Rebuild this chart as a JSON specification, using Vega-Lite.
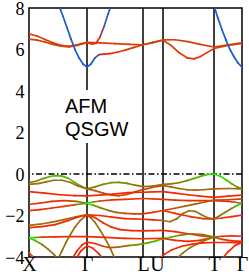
{
"$schema": "https://vega.github.io/schema/vega-lite/v6.json",
"width": 213, "height": 249,
"autosize": {"type": "none"},
"padding": {"left": 29, "top": 8, "right": 7, "bottom": 18},
"background": "white",
"config": {"view": {"stroke": "black", "strokeWidth": 1.5}, "axis": {"grid": false, "ticks": false, "domain": false, "labelColor": "black", "labelFont": "Liberation Serif", "title": null}},
"datasets": {
"vlines": [{"k":87},{"k":143},{"k":163},{"k":214}],
"labels": [{"t":"AFM","k":65,"e":2.92},{"t":"QSGW","k":65,"e":1.83}],
"bands": [
{"b":1,"k":29,"e":-0.42,"g":0.45},{"b":1,"k":36,"e":-0.35,"g":0.5},{"b":1,"k":43,"e":-0.22,"g":0.6},{"b":1,"k":50,"e":-0.12,"g":0.7},{"b":1,"k":56,"e":-0.08,"g":0.75},{"b":1,"k":62,"e":-0.1,"g":0.75},{"b":1,"k":68,"e":-0.2,"g":0.7},{"b":1,"k":74,"e":-0.38,"g":0.65},{"b":1,"k":80,"e":-0.56,"g":0.55},{"b":1,"k":87,"e":-0.72,"g":0.45},
{"b":2,"k":29,"e":-0.5,"g":0.4},{"b":2,"k":38,"e":-0.46,"g":0.4},{"b":2,"k":46,"e":-0.38,"g":0.45},{"b":2,"k":54,"e":-0.3,"g":0.45},{"b":2,"k":62,"e":-0.3,"g":0.45},{"b":2,"k":70,"e":-0.4,"g":0.4},{"b":2,"k":78,"e":-0.58,"g":0.4},{"b":2,"k":87,"e":-0.72,"g":0.4},
{"b":3,"k":29,"e":-0.85,"g":0.05},{"b":3,"k":45,"e":-0.92,"g":0.05},{"b":3,"k":60,"e":-1.0,"g":0.05},{"b":3,"k":75,"e":-1.04,"g":0.05},{"b":3,"k":87,"e":-1.05,"g":0.05},
{"b":4,"k":29,"e":-1.47,"g":0.1},{"b":4,"k":40,"e":-1.4,"g":0.1},{"b":4,"k":52,"e":-1.32,"g":0.1},{"b":4,"k":64,"e":-1.28,"g":0.15},{"b":4,"k":76,"e":-1.32,"g":0.5},{"b":4,"k":87,"e":-1.41,"g":1},
{"b":5,"k":29,"e":-1.77,"g":0.1},{"b":5,"k":40,"e":-1.72,"g":0.1},{"b":5,"k":52,"e":-1.64,"g":0.1},{"b":5,"k":64,"e":-1.56,"g":0.2},{"b":5,"k":76,"e":-1.48,"g":0.6},{"b":5,"k":87,"e":-1.41,"g":1},
{"b":6,"k":29,"e":-2.48,"g":0.4},{"b":6,"k":40,"e":-2.42,"g":0.4},{"b":6,"k":52,"e":-2.32,"g":0.4},{"b":6,"k":64,"e":-2.2,"g":0.35},{"b":6,"k":76,"e":-2.07,"g":0.25},{"b":6,"k":87,"e":-1.97,"g":0.1},
{"b":7,"k":29,"e":-2.58,"g":0.05},{"b":7,"k":42,"e":-2.54,"g":0.05},{"b":7,"k":55,"e":-2.44,"g":0.05},{"b":7,"k":68,"e":-2.25,"g":0.1},{"b":7,"k":78,"e":-2.07,"g":0.1},{"b":7,"k":87,"e":-1.97,"g":0.1},
{"b":8,"k":29,"e":-3.08,"g":1},{"b":8,"k":35,"e":-3.06,"g":0.5},{"b":8,"k":42,"e":-3.04,"g":0.15},{"b":8,"k":55,"e":-3.03,"g":0.05},{"b":8,"k":70,"e":-3.02,"g":0.05},{"b":8,"k":87,"e":-3.02,"g":0.05},
{"b":9,"k":29,"e":-3.08,"g":0.9},{"b":9,"k":35,"e":-3.2,"g":0.6},{"b":9,"k":42,"e":-3.4,"g":0.45},{"b":9,"k":48,"e":-3.62,"g":0.4},{"b":9,"k":54,"e":-3.88,"g":0.4},{"b":9,"k":58,"e":-4.1,"g":0.4},
{"b":10,"k":58,"e":-4.1,"g":0.4},{"b":10,"k":62,"e":-3.7,"g":0.4},{"b":10,"k":66,"e":-3.3,"g":0.4},{"b":10,"k":70,"e":-2.95,"g":0.4},{"b":10,"k":75,"e":-2.55,"g":0.35},{"b":10,"k":80,"e":-2.25,"g":0.3},{"b":10,"k":87,"e":-1.97,"g":0.1},
{"b":11,"k":72,"e":-4.1,"g":0.05},{"b":11,"k":77,"e":-3.7,"g":0.05},{"b":11,"k":82,"e":-3.42,"g":0.05},{"b":11,"k":87,"e":-3.28,"g":0.05},{"b":11,"k":95,"e":-3.35,"g":0.1},{"b":11,"k":103,"e":-3.48,"g":0.2},{"b":11,"k":110,"e":-3.55,"g":0.3},{"b":11,"k":118,"e":-3.52,"g":0.4},{"b":11,"k":128,"e":-3.45,"g":0.5},{"b":11,"k":138,"e":-3.4,"g":0.6},{"b":11,"k":148,"e":-3.32,"g":0.7},{"b":11,"k":156,"e":-3.22,"g":0.85},{"b":11,"k":163,"e":-3.12,"g":1},
{"b":12,"k":76,"e":-4.1,"g":0.05},{"b":12,"k":81,"e":-3.7,"g":0.05},{"b":12,"k":87,"e":-3.46,"g":0.05},{"b":12,"k":93,"e":-3.58,"g":0.05},{"b":12,"k":99,"e":-3.85,"g":0.05},{"b":12,"k":103,"e":-4.1,"g":0.05},
{"b":13,"k":29,"e":-3.78,"g":0.1},{"b":13,"k":32,"e":-3.95,"g":0.1},{"b":13,"k":34,"e":-4.1,"g":0.1},
{"b":14,"k":87,"e":-0.72,"g":0.45},{"b":14,"k":95,"e":-0.62,"g":0.5},{"b":14,"k":103,"e":-0.5,"g":0.55},{"b":14,"k":111,"e":-0.42,"g":0.55},{"b":14,"k":119,"e":-0.4,"g":0.5},{"b":14,"k":127,"e":-0.45,"g":0.45},{"b":14,"k":135,"e":-0.54,"g":0.4},{"b":14,"k":143,"e":-0.61,"g":0.4},{"b":14,"k":153,"e":-0.58,"g":0.4},{"b":14,"k":163,"e":-0.5,"g":0.4},
{"b":15,"k":87,"e":-0.72,"g":0.35},{"b":15,"k":95,"e":-0.8,"g":0.3},{"b":15,"k":103,"e":-0.92,"g":0.25},{"b":15,"k":111,"e":-1.02,"g":0.25},{"b":15,"k":119,"e":-1.05,"g":0.25},{"b":15,"k":127,"e":-0.98,"g":0.25},{"b":15,"k":135,"e":-0.86,"g":0.25},{"b":15,"k":143,"e":-0.75,"g":0.25},{"b":15,"k":153,"e":-0.64,"g":0.25},{"b":15,"k":163,"e":-0.56,"g":0.3},
{"b":16,"k":87,"e":-1.05,"g":0.05},{"b":16,"k":100,"e":-1.02,"g":0.05},{"b":16,"k":113,"e":-0.97,"g":0.05},{"b":16,"k":128,"e":-0.9,"g":0.05},{"b":16,"k":143,"e":-0.88,"g":0.05},{"b":16,"k":153,"e":-0.86,"g":0.05},{"b":16,"k":163,"e":-0.85,"g":0.05},
{"b":17,"k":87,"e":-1.41,"g":1},{"b":17,"k":93,"e":-1.35,"g":0.4},{"b":17,"k":100,"e":-1.3,"g":0.15},{"b":17,"k":112,"e":-1.25,"g":0.1},{"b":17,"k":125,"e":-1.22,"g":0.1},{"b":17,"k":143,"e":-1.18,"g":0.1},{"b":17,"k":153,"e":-1.2,"g":0.1},{"b":17,"k":163,"e":-1.22,"g":0.15},
{"b":18,"k":87,"e":-1.41,"g":1},{"b":18,"k":93,"e":-1.5,"g":0.6},{"b":18,"k":100,"e":-1.62,"g":0.45},{"b":18,"k":108,"e":-1.75,"g":0.4},{"b":18,"k":116,"e":-1.85,"g":0.35},{"b":18,"k":125,"e":-1.9,"g":0.25},{"b":18,"k":134,"e":-1.92,"g":0.15},{"b":18,"k":143,"e":-1.92,"g":0.1},{"b":18,"k":153,"e":-1.85,"g":0.1},{"b":18,"k":163,"e":-1.76,"g":0.1},
{"b":19,"k":87,"e":-1.97,"g":0.1},{"b":19,"k":100,"e":-2.0,"g":0.1},{"b":19,"k":112,"e":-2.08,"g":0.05},{"b":19,"k":125,"e":-2.15,"g":0.05},{"b":19,"k":143,"e":-2.18,"g":0.05},{"b":19,"k":153,"e":-2.21,"g":0.05},{"b":19,"k":163,"e":-2.24,"g":0.1},
{"b":20,"k":87,"e":-1.97,"g":0.1},{"b":20,"k":95,"e":-2.1,"g":0.1},{"b":20,"k":103,"e":-2.35,"g":0.1},{"b":20,"k":111,"e":-2.55,"g":0.05},{"b":20,"k":120,"e":-2.68,"g":0.05},{"b":20,"k":132,"e":-2.73,"g":0.05},{"b":20,"k":143,"e":-2.74,"g":0.05},{"b":20,"k":153,"e":-2.73,"g":0.05},{"b":20,"k":163,"e":-2.72,"g":0.05},
{"b":21,"k":87,"e":-1.97,"g":0.25},{"b":21,"k":91,"e":-2.12,"g":0.4},{"b":21,"k":95,"e":-2.33,"g":0.4},{"b":21,"k":100,"e":-2.7,"g":0.4},{"b":21,"k":105,"e":-3.1,"g":0.4},{"b":21,"k":110,"e":-3.55,"g":0.4},{"b":21,"k":115,"e":-4.1,"g":0.4},
{"b":22,"k":87,"e":-3.02,"g":0.05},{"b":22,"k":105,"e":-3.05,"g":0.05},{"b":22,"k":125,"e":-3.1,"g":0.05},{"b":22,"k":143,"e":-3.12,"g":0.05},{"b":22,"k":163,"e":-3.1,"g":0.1},
{"b":23,"k":163,"e":-0.5,"g":0.4},{"b":23,"k":171,"e":-0.48,"g":0.45},{"b":23,"k":179,"e":-0.42,"g":0.5},{"b":23,"k":187,"e":-0.32,"g":0.6},{"b":23,"k":195,"e":-0.2,"g":0.7},{"b":23,"k":202,"e":-0.09,"g":0.8},{"b":23,"k":208,"e":-0.02,"g":0.9},{"b":23,"k":214,"e":0,"g":1},{"b":23,"k":220,"e":-0.1,"g":0.9},{"b":23,"k":226,"e":-0.28,"g":0.75},{"b":23,"k":232,"e":-0.48,"g":0.6},{"b":23,"k":237,"e":-0.62,"g":0.5},{"b":23,"k":242,"e":-0.72,"g":0.45},
{"b":24,"k":163,"e":-0.56,"g":0.35},{"b":24,"k":171,"e":-0.62,"g":0.35},{"b":24,"k":179,"e":-0.7,"g":0.35},{"b":24,"k":187,"e":-0.76,"g":0.35},{"b":24,"k":195,"e":-0.78,"g":0.35},{"b":24,"k":203,"e":-0.76,"g":0.35},{"b":24,"k":214,"e":-0.72,"g":0.35},{"b":24,"k":228,"e":-0.7,"g":0.4},{"b":24,"k":242,"e":-0.72,"g":0.4},
{"b":25,"k":163,"e":-0.85,"g":0.05},{"b":25,"k":175,"e":-0.92,"g":0.05},{"b":25,"k":188,"e":-1.0,"g":0.05},{"b":25,"k":200,"e":-1.07,"g":0.05},{"b":25,"k":214,"e":-1.13,"g":0.05},{"b":25,"k":228,"e":-1.07,"g":0.05},{"b":25,"k":242,"e":-1.02,"g":0.05},
{"b":26,"k":163,"e":-1.22,"g":0.15},{"b":26,"k":175,"e":-1.26,"g":0.15},{"b":26,"k":188,"e":-1.28,"g":0.1},{"b":26,"k":200,"e":-1.28,"g":0.05},{"b":26,"k":214,"e":-1.28,"g":0.05},{"b":26,"k":228,"e":-1.32,"g":0.1},{"b":26,"k":235,"e":-1.36,"g":0.4},{"b":26,"k":242,"e":-1.41,"g":1},
{"b":27,"k":163,"e":-1.76,"g":0.2},{"b":27,"k":175,"e":-1.65,"g":0.3},{"b":27,"k":185,"e":-1.55,"g":0.35},{"b":27,"k":195,"e":-1.45,"g":0.35},{"b":27,"k":205,"e":-1.35,"g":0.3},{"b":27,"k":214,"e":-1.26,"g":0.2},{"b":27,"k":228,"e":-1.24,"g":0.15},{"b":27,"k":242,"e":-1.2,"g":0.1},
{"b":28,"k":163,"e":-2.24,"g":0.4},{"b":28,"k":170,"e":-2.3,"g":0.4},{"b":28,"k":177,"e":-2.15,"g":0.4},{"b":28,"k":183,"e":-1.9,"g":0.4},{"b":28,"k":189,"e":-1.77,"g":0.4},{"b":28,"k":195,"e":-1.8,"g":0.4},{"b":28,"k":201,"e":-1.95,"g":0.4},{"b":28,"k":207,"e":-2.1,"g":0.4},{"b":28,"k":214,"e":-2.17,"g":0.35},{"b":28,"k":220,"e":-2.0,"g":0.4},{"b":28,"k":226,"e":-1.82,"g":0.45},{"b":28,"k":232,"e":-1.65,"g":0.6},{"b":28,"k":237,"e":-1.52,"g":0.8},{"b":28,"k":242,"e":-1.41,"g":1},
{"b":29,"k":163,"e":-2.72,"g":0.05},{"b":29,"k":175,"e":-2.78,"g":0.05},{"b":29,"k":188,"e":-2.88,"g":0.1},{"b":29,"k":200,"e":-2.97,"g":0.2},{"b":29,"k":214,"e":-3.04,"g":0.6},
{"b":30,"k":163,"e":-3.12,"g":1},{"b":30,"k":170,"e":-3.05,"g":0.6},{"b":30,"k":180,"e":-2.95,"g":0.45},{"b":30,"k":192,"e":-2.88,"g":0.4},{"b":30,"k":203,"e":-2.92,"g":0.4},{"b":30,"k":214,"e":-3.04,"g":0.6},
{"b":31,"k":163,"e":-3.1,"g":0.1},{"b":31,"k":175,"e":-3.2,"g":0.05},{"b":31,"k":188,"e":-3.25,"g":0.05},{"b":31,"k":200,"e":-3.2,"g":0.05},{"b":31,"k":214,"e":-3.04,"g":0.3},
{"b":32,"k":214,"e":-3.04,"g":0.3},{"b":32,"k":222,"e":-3.0,"g":0.05},{"b":32,"k":232,"e":-2.98,"g":0.05},{"b":32,"k":242,"e":-3.0,"g":0.05},
{"b":33,"k":214,"e":-3.04,"g":0.3},{"b":33,"k":222,"e":-3.15,"g":0.05},{"b":33,"k":232,"e":-3.22,"g":0.05},{"b":33,"k":242,"e":-3.25,"g":0.05},
{"b":34,"k":176,"e":-4.1,"g":0.4},{"b":34,"k":183,"e":-3.8,"g":0.4},{"b":34,"k":190,"e":-3.55,"g":0.4},{"b":34,"k":198,"e":-3.35,"g":0.45},{"b":34,"k":206,"e":-3.18,"g":0.55},{"b":34,"k":214,"e":-3.04,"g":0.8},
{"b":35,"k":159,"e":-4.1,"g":0.05},{"b":35,"k":165,"e":-3.85,"g":0.05},{"b":35,"k":172,"e":-3.65,"g":0.05},{"b":35,"k":182,"e":-3.48,"g":0.05},{"b":35,"k":192,"e":-3.38,"g":0.05},{"b":35,"k":203,"e":-3.32,"g":0.05},{"b":35,"k":214,"e":-3.3,"g":0.05},{"b":35,"k":228,"e":-3.3,"g":0.05},{"b":35,"k":242,"e":-3.32,"g":0.05},
{"b":36,"k":222,"e":-4.1,"g":0.05},{"b":36,"k":228,"e":-3.75,"g":0.05},{"b":36,"k":235,"e":-3.45,"g":0.05},{"b":36,"k":242,"e":-3.3,"g":0.05},
{"b":37,"k":214,"e":-2.17,"g":0.3},{"b":37,"k":222,"e":-2.12,"g":0.1},{"b":37,"k":232,"e":-2.05,"g":0.05},{"b":37,"k":242,"e":-1.98,"g":0.05},
{"b":38,"k":163,"e":-1.76,"g":0.1},{"b":38,"k":175,"e":-1.9,"g":0.1},{"b":38,"k":190,"e":-2.05,"g":0.15},{"b":38,"k":203,"e":-2.15,"g":0.2},{"b":38,"k":214,"e":-2.17,"g":0.3},
{"b":40,"k":29,"e":6.75,"g":0.18},{"b":40,"k":37,"e":6.65,"g":0.18},{"b":40,"k":45,"e":6.48,"g":0.18},{"b":40,"k":53,"e":6.32,"g":0.18},{"b":40,"k":61,"e":6.2,"g":0.18},{"b":40,"k":69,"e":6.15,"g":0.18},{"b":40,"k":77,"e":6.22,"g":0.18},{"b":40,"k":87,"e":6.35,"g":0.18},{"b":40,"k":100,"e":6.32,"g":0.18},{"b":40,"k":115,"e":6.28,"g":0.18},{"b":40,"k":130,"e":6.25,"g":0.18},{"b":40,"k":143,"e":6.23,"g":0.18},{"b":40,"k":153,"e":6.33,"g":0.18},{"b":40,"k":163,"e":6.46,"g":0.18},{"b":40,"k":175,"e":6.47,"g":0.18},{"b":40,"k":188,"e":6.38,"g":0.18},{"b":40,"k":200,"e":6.25,"g":0.18},{"b":40,"k":214,"e":6.12,"g":0.18},{"b":40,"k":228,"e":6.22,"g":0.18},{"b":40,"k":242,"e":6.32,"g":0.18},
{"b":41,"k":29,"e":6.5,"g":0.18},{"b":41,"k":37,"e":6.45,"g":0.18},{"b":41,"k":45,"e":6.36,"g":0.18},{"b":41,"k":53,"e":6.25,"g":0.18},{"b":41,"k":61,"e":6.16,"g":0.18},{"b":41,"k":69,"e":6.13,"g":0.18},{"b":41,"k":77,"e":6.2,"g":0.18},{"b":41,"k":87,"e":6.33,"g":0.18},{"b":41,"k":92,"e":6.26,"g":0.12},{"b":41,"k":96,"e":6.3,"g":0},{"b":41,"k":100,"e":6.6,"g":-0.5},{"b":41,"k":104,"e":7.1,"g":-0.9},{"b":41,"k":108,"e":7.7,"g":-1},{"b":41,"k":111,"e":8.1,"g":-1},
{"b":42,"k":59,"e":8.1,"g":-1},{"b":42,"k":63,"e":7.6,"g":-1},{"b":42,"k":67,"e":7.05,"g":-1},{"b":42,"k":71,"e":6.5,"g":-1},{"b":42,"k":75,"e":6.0,"g":-1},{"b":42,"k":79,"e":5.6,"g":-1},{"b":42,"k":83,"e":5.3,"g":-1},{"b":42,"k":87,"e":5.15,"g":-1},{"b":42,"k":91,"e":5.3,"g":-1},{"b":42,"k":95,"e":5.6,"g":-0.8},{"b":42,"k":99,"e":5.75,"g":-0.4},{"b":42,"k":104,"e":5.78,"g":0},{"b":42,"k":110,"e":5.8,"g":0.08},{"b":42,"k":118,"e":5.88,"g":0.12},{"b":42,"k":126,"e":5.98,"g":0.15},{"b":42,"k":134,"e":6.1,"g":0.18},{"b":42,"k":143,"e":6.23,"g":0.18},{"b":42,"k":153,"e":6.35,"g":0.18},{"b":42,"k":163,"e":6.45,"g":0.18},{"b":42,"k":171,"e":6.2,"g":0.12},{"b":42,"k":179,"e":5.85,"g":0.08},{"b":42,"k":187,"e":5.6,"g":0.08},{"b":42,"k":194,"e":5.55,"g":0.08},{"b":42,"k":200,"e":5.65,"g":0.12},{"b":42,"k":207,"e":5.85,"g":0.15},{"b":42,"k":214,"e":6.05,"g":0.18},{"b":42,"k":228,"e":6.2,"g":0.18},{"b":42,"k":242,"e":6.3,"g":0.18},
{"b":43,"k":214,"e":8.1,"g":-1},{"b":43,"k":218,"e":7.5,"g":-1},{"b":43,"k":222,"e":6.95,"g":-1},{"b":43,"k":226,"e":6.45,"g":-1},{"b":43,"k":230,"e":6.0,"g":-1},{"b":43,"k":234,"e":5.65,"g":-1},{"b":43,"k":238,"e":5.35,"g":-1},{"b":43,"k":242,"e":5.15,"g":-1}
]
},
"layer": [
{"data": {"name": "vlines"}, "mark": {"type": "rule", "color": "black", "strokeWidth": 1.5},
 "encoding": {"x": {"field": "k", "type": "quantitative", "scale": {"domain": [29, 242], "nice": false, "zero": false}}}},
{"data": {"values": [{}]}, "mark": {"type": "rule", "color": "black", "strokeWidth": 1.3, "strokeDash": [6, 2.5, 1.5, 2.5]},
 "encoding": {"y": {"datum": 0, "type": "quantitative", "scale": {"domain": [-4, 8], "nice": false, "zero": false}}}},
{"data": {"name": "bands"},
 "transform": [
  {"window": [{"op": "lead", "field": "k", "as": "k2"}, {"op": "lead", "field": "e", "as": "e2"}], "groupby": ["b"], "sort": [{"field": "k", "order": "ascending"}]},
  {"filter": "datum.k2 != null"}
 ],
 "mark": {"type": "rule", "strokeWidth": 1.7, "strokeCap": "round", "clip": true},
 "encoding": {
  "x": {"field": "k", "type": "quantitative", "scale": {"domain": [29, 242], "nice": false, "zero": false},
        "axis": {"values": [29, 87, 143, 157, 214, 242], "labelExpr": "datum.value == 29 ? 'X' : datum.value == 87 ? 'Γ' : datum.value == 143 ? 'L' : datum.value == 157 ? 'U' : datum.value == 214 ? 'T' : 'Γ'", "labelFontSize": 20, "labelBaseline": "alphabetic", "labelPadding": 13.5, "labelFlush": false, "labelOverlap": false, "labelBound": false}},
  "x2": {"field": "k2"},
  "y": {"field": "e", "type": "quantitative", "scale": {"domain": [-4, 8], "nice": false, "zero": false},
        "axis": {"values": [-4, -2, 0, 2, 4, 6, 8], "labelFontSize": 18, "labelPadding": 5, "labelOffset": 1, "labelFlush": false, "labelOverlap": false}},
  "y2": {"field": "e2"},
  "color": {"field": "g", "type": "quantitative", "scale": {"domain": [-1, 0, 0.25, 0.45, 1], "range": ["#1a5ccc", "#ff2000", "#c84a08", "#8a7a08", "#20f000"], "interpolate": "rgb"}, "legend": null}
 }},
{"data": {"values": [{}]}, "mark": {"type": "rect", "color": "white"},
 "encoding": {"x": {"datum": 62, "type": "quantitative"}, "x2": {"datum": 133}, "y": {"datum": 4.05, "type": "quantitative"}, "y2": {"datum": 1.5}}},
{"data": {"name": "labels"}, "mark": {"type": "text", "font": "Liberation Sans", "fontSize": 20, "align": "left", "baseline": "alphabetic", "color": "black"},
 "encoding": {"x": {"field": "k", "type": "quantitative"}, "y": {"field": "e", "type": "quantitative"}, "text": {"field": "t"}}}
]
}
